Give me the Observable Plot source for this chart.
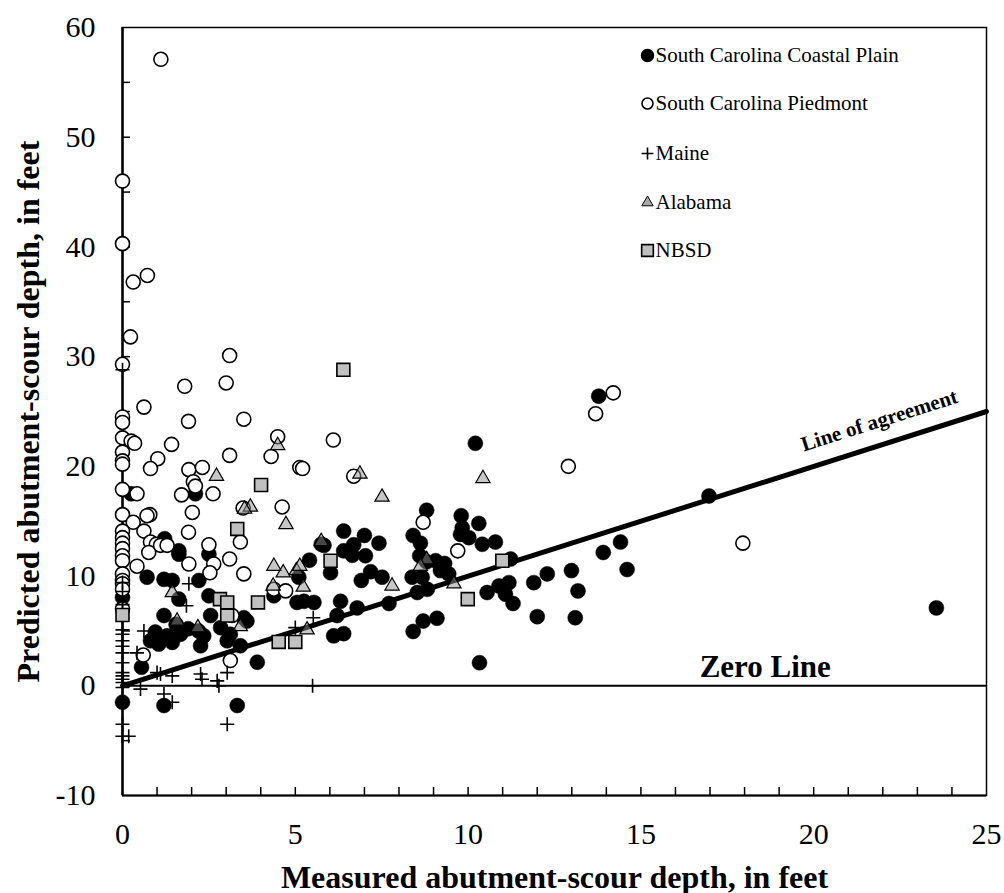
<!DOCTYPE html>
<html><head><meta charset="utf-8">
<script src="https://cdn.jsdelivr.net/npm/d3@7"></script>
<script src="https://cdn.jsdelivr.net/npm/@observablehq/plot@0.6"></script>
<style>body{margin:0;background:#fff;}</style>
</head><body><div id="chart"></div>
<script>
// Measured (x) vs predicted (y) abutment-scour depth, feet
const coastalPlain = [
  [0,-1.5],[1.2,-1.8],[3.32,-1.8],[0.55,1.7],[3.9,2.15],[10.33,2.1],[23.55,7.1],[16.97,17.3],[13.78,26.4],[10.21,22.1],
  [0,8.05],[0.25,17.5],[2.11,17.5],[1.22,13.4],[1.63,12.3],[1.63,12.0],[2.5,12.0],[0.71,9.9],[1.2,9.7],[1.44,9.6],
  [2.21,9.6],[1.63,7.9],[2.5,8.2],[1.2,6.4],[0.95,4.9],[1.29,4.55],[1.68,4.7],[1.05,3.8],[1.44,3.95],[0.81,4.1],
  [2.55,6.4],[2.35,4.55],[2.26,3.65],[2.84,5.3],[3.03,4.1],[3.41,3.65],[3.12,4.7],[3.51,6.2],[3.6,5.9],[4.38,8.2],
  [5.05,7.6],[5.25,7.7],[5.54,7.6],[6.31,7.7],[6.79,7.1],[7.71,7.5],[6.21,6.4],[6.11,4.55],[6.4,4.75],[8.41,4.95],
  [8.7,5.9],[9.1,6.15],[6.4,14.1],[7.0,13.7],[7.42,13.0],[6.69,12.85],[6.4,12.3],[6.65,11.9],[7.03,11.85],[5.83,12.8],
  [6.02,10.3],[5.41,11.45],[5.1,9.9],[7.18,10.4],[7.51,9.9],[6.91,9.6],[8.8,16.0],[8.41,13.7],[8.62,13.0],[8.6,11.85],
  [9.06,11.4],[9.32,11.15],[8.38,9.9],[8.67,9.9],[9.2,10.5],[9.44,10.2],[8.53,8.5],[8.82,8.8],[9.8,15.5],[9.83,14.4],
  [10.31,14.8],[9.78,13.8],[10.02,13.5],[10.41,12.9],[10.55,8.5],[10.79,13.1],[11.23,11.55],[10.89,9.1],[11.18,9.4],[11.08,8.35],
  [11.3,7.5],[11.9,9.4],[12.29,10.2],[12.99,10.5],[13.18,8.65],[12.0,6.3],[13.1,6.2],[13.91,12.15],[14.41,13.1],[14.6,10.6],
  [1.55,5.6],[2.2,5.0],[1.0,4.5],[1.9,5.2],[5.75,12.9],[8.8,11.3]
];
const piedmont = [
  [1.11,57.1],[0,46.0],[0,40.3],[0.31,36.8],[0.72,37.4],[0.23,31.8],[0,29.3],[1.8,27.3],[3.1,30.1],[3.0,27.6],
  [0.62,25.4],[0,24.5],[0,24.0],[1.91,24.1],[3.51,24.3],[0,22.6],[0.25,22.3],[0.35,22.1],[1.42,22.0],[0,21.3],
  [0,20.5],[0,20.2],[1.02,20.7],[0.81,19.8],[3.1,21.0],[4.49,22.7],[4.3,20.9],[5.13,19.9],[1.92,19.7],[2.31,19.9],
  [2.05,18.6],[2.11,18.2],[2.62,17.5],[1.71,17.4],[0,17.9],[0.42,17.5],[4.62,16.3],[3.49,16.2],[0,15.6],[0.79,15.6],
  [0.71,15.5],[0.31,14.9],[0.62,14.1],[2.02,15.8],[1.91,14.0],[0,14.1],[0,13.5],[0,13.0],[0,12.5],[0.81,13.1],
  [0.98,12.9],[2.5,12.85],[3.41,13.1],[0,11.85],[0,11.4],[0.76,12.15],[1.1,12.8],[1.29,12.8],[1.92,11.1],[2.64,11.1],
  [2.53,10.3],[3.1,11.55],[3.51,10.2],[0.42,10.9],[0,10.2],[0,9.6],[0,9.3],[0,8.8],[3.17,6.4],[4.38,8.8],
  [4.72,8.65],[0.6,2.8],[3.12,2.3],[6.1,22.4],[5.21,19.8],[6.69,19.1],[8.7,14.9],[9.7,12.3],[14.2,26.7],[13.69,24.8],
  [12.9,20.0],[17.95,13.0],[0,7.0]
];
const maine = [
  [0,28.8],[0,9.4],[0,8.6],[0,7.4],[0,6.9],[0,5.1],[0,4.7],[0,4.1],[0,3.6],[0,3.0],[0,2.1],[0,1.2],[0,0.9],[0,0.6],
  [0,0.3],[0,-0.15],[0,-3.5],[0,-4.6],[0.18,-4.6],[0.42,3.0],[0.62,5.0],[1.0,1.2],[1.1,1.07],[1.44,0.9],[0.52,-0.3],
  [1.2,-0.75],[1.44,-1.5],[2.26,1.07],[2.3,0.6],[2.74,0.45],[2.79,0],[3.03,1.2],[3.03,-3.5],[5.5,0],[5.52,6.2],
  [5.0,5.3],[1.92,9.3],[1.85,7.3]
];
const alabama = [
  [4.49,21.9],[2.72,19.1],[4.73,14.7],[3.70,16.3],[3.53,16.1],[4.38,10.9],[4.65,10.3],[5.03,10.5],[4.36,9.1],[1.44,8.5],
  [1.58,5.9],[2.18,5.3],[3.41,5.4],[6.87,19.3],[7.51,17.2],[10.43,18.9],[5.75,13.15],[5.13,10.9],[5.23,9.0],[7.8,9.1],
  [8.8,11.5],[8.62,10.9],[9.59,9.3],[5.34,5.1]
];
const nbsd = [
  [6.39,28.8],[4.01,18.3],[3.32,14.3],[0,6.45],[2.82,7.9],[3.03,7.6],[3.03,6.4],[3.92,7.6],[4.52,4.0],[5.0,4.0],
  [6.02,11.4],[9.99,7.9],[10.99,11.4]
];
const agreementX = [0, 25];
const agreementY = [0, 25];
const xTickLabels = [0, 5, 10, 15, 20, 25];
const yTickLabels = [-10, 0, 10, 20, 30, 40, 50, 60];
const xMinorTicks = d3.range(1, 25, 1);
const yMinorTicks = d3.range(-5, 60, 5);
const seriesNames = ["South Carolina Coastal Plain", "South Carolina Piedmont", "Maine", "Alabama", "NBSD"];
const xTitle = "Measured abutment-scour depth, in feet";
const yTitle = "Predicted abutment-scour depth, in feet";
const annotations = [{label: "Zero Line", x: 16.7, y: 0}, {label: "Line of agreement", x: 21.9, y: 21.9}];

const serif = "Liberation Serif, 'Times New Roman', serif";
const P = d => d[0], Q = d => d[1];
const legendRows = [28, 76, 126, 175, 223];
const legendSym = [
  {symbol: "circle", fill: "black", stroke: "black", r: 6},
  {symbol: "circle", fill: "white", stroke: "black", r: 5.5, strokeWidth: 1.6},
  {symbol: "plus", fill: "none", stroke: "black", r: 3.9, strokeWidth: 1.6},
  {symbol: "triangle", fill: "#a8a8a8", stroke: "black", r: 4.2, strokeWidth: 1},
  {symbol: "square", fill: "#c0c0c0", stroke: "black", r: 6.6, strokeWidth: 1.6}
];

const chart = Plot.plot({
  width: 1004, height: 893,
  marginLeft: 122, marginRight: 18, marginTop: 27, marginBottom: 98,
  style: {fontFamily: serif, fontSize: "30px", color: "black", background: "white", overflow: "visible"},
  x: {domain: [0, 25], ticks: xTickLabels, tickFormat: d => String(d), tickSize: 0, tickPadding: 27, label: null},
  y: {domain: [-10, 60], ticks: yTickLabels, tickFormat: d => String(d), tickSize: 0, tickPadding: 27, label: null},
  marks: [
    Plot.frame({stroke: "black", strokeWidth: 1.5}),
    Plot.ruleX([0], {stroke: "black", strokeWidth: 2.5}),
    Plot.ruleY([-10], {stroke: "black", strokeWidth: 2}),
    Plot.ruleX(xMinorTicks, {x: d => d, insetTop: 760, stroke: "black", strokeWidth: 1.5}),
    Plot.ruleY(yMinorTicks, {y: d => d, insetRight: 856, stroke: "black", strokeWidth: 1.5}),
    Plot.ruleY([0], {stroke: "black", strokeWidth: 2}),
    Plot.line(agreementX.map((x, i) => [x, agreementY[i]]), {x: P, y: Q, stroke: "black", strokeWidth: 5}),
    Plot.dot(coastalPlain, {x: P, y: Q, r: 7.5, fill: "black", stroke: "black", strokeWidth: 0.5}),
    Plot.dot(piedmont, {x: P, y: Q, r: 7, fill: "white", stroke: "black", strokeWidth: 1.6}),
    Plot.dot(maine, {x: P, y: Q, symbol: "plus", r: 4.6, stroke: "black", strokeWidth: 1.6}),
    Plot.dot(alabama, {x: P, y: Q, symbol: "triangle", r: 5.3, fill: "#909090", fillOpacity: 0.5, stroke: "black", strokeWidth: 1.2}),
    Plot.dot(nbsd, {x: P, y: Q, symbol: "square", r: 7.3, fill: "#c0c0c0", stroke: "black", strokeWidth: 1.6}),
    Plot.text([annotations[0]], {x: "x", y: "y", text: "label", textAnchor: "start", dy: -19, fontSize: 31, fontWeight: "bold", fontFamily: serif}),
    Plot.text([annotations[1]], {x: "x", y: "y", text: "label", textAnchor: "middle", rotate: -17.6, dy: -25, fontSize: 21, fontWeight: "bold", fontFamily: serif}),
    ...seriesNames.map((name, i) => Plot.dot([name], {frameAnchor: "top-left", dx: 525, dy: legendRows[i], ...legendSym[i]})),
    ...seriesNames.map((name, i) => Plot.text([name], {frameAnchor: "top-left", text: d => d, dx: 533, dy: legendRows[i], textAnchor: "start", lineAnchor: "middle", fontSize: 21, fontFamily: serif})),
    Plot.text([xTitle], {frameAnchor: "bottom", text: d => d, dy: 82, lineAnchor: "middle", fontSize: 32, fontWeight: "bold", fontFamily: serif}),
    Plot.text([yTitle], {frameAnchor: "left", text: d => d, rotate: -90, dx: -94, textAnchor: "middle", lineAnchor: "middle", fontSize: 32, fontWeight: "bold", fontFamily: serif})
  ]
});
document.getElementById("chart").appendChild(chart);
</script>
</body></html>
